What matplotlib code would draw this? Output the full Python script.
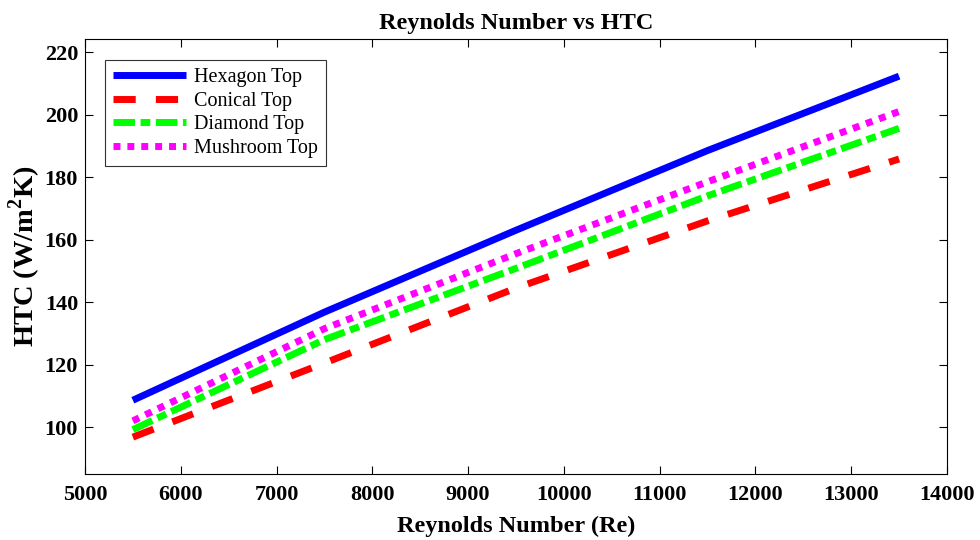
import matplotlib
matplotlib.use("Agg")
import matplotlib.pyplot as plt

plt.rcParams['font.family'] = ['Liberation Serif', 'DejaVu Serif']
plt.rcParams['mathtext.fontset'] = 'custom'
plt.rcParams['mathtext.rm'] = 'Liberation Serif:bold'
plt.rcParams['mathtext.bf'] = 'Liberation Serif:bold'

# Reynolds number samples and heat transfer coefficients for each fin top shape
reynolds = [5500, 7500, 9500, 11500, 13500]
hexagon_top = [108.6, 136.8, 163.0, 188.5, 212.3]
conical_top = [96.8, 120.5, 144.5, 166.0, 185.8]
diamond_top = [99.2, 128.0, 150.8, 174.0, 195.6]
mushroom_top = [102.0, 131.5, 155.5, 178.5, 201.0]

series_labels = ['Hexagon Top', 'Conical Top', 'Diamond Top', 'Mushroom Top']
x_ticks = [5000, 6000, 7000, 8000, 9000, 10000, 11000, 12000, 13000, 14000]
y_ticks = [100, 120, 140, 160, 180, 200, 220]

fig = plt.figure(figsize=(9.8, 5.4), dpi=100)
ax = fig.add_axes([0.0867, 0.1222, 0.8796, 0.8056])

lw = 5
ax.plot(reynolds, hexagon_top, color='#0000ff', lw=lw, solid_capstyle='butt',
        label=series_labels[0])
ax.plot(reynolds, conical_top, color='#ff0000', lw=lw, dashes=(3.2, 2.9),
        dash_capstyle='butt', label=series_labels[1])
ax.plot(reynolds, diamond_top, color='#00ff00', lw=lw, dashes=(3.1, 0.8, 1.4, 0.8),
        dash_capstyle='butt', label=series_labels[2])
ax.plot(reynolds, mushroom_top, color='#ff00ff', lw=lw, dashes=(1.0, 1.0),
        dash_capstyle='butt', label=series_labels[3])

ax.set_xlim(5000, 14000)
ax.set_ylim(85, 224.2)
ax.set_xticks(x_ticks)
ax.set_yticks(y_ticks)
ax.tick_params(direction='in', length=6, width=0.8, top=True, right=True,
               labelsize=16)
ax.tick_params(axis='x', pad=8)
ax.tick_params(axis='y', pad=5)
for lbl in ax.get_xticklabels() + ax.get_yticklabels():
    lbl.set_fontweight('bold')
for sp in ax.spines.values():
    sp.set_linewidth(0.8)

ax.set_xlabel('Reynolds Number (Re)', fontsize=17.5, fontweight='bold', labelpad=8)
ax.set_ylabel(r'HTC (W/m$^{2}$K)', fontsize=20.5, fontweight='bold', labelpad=1)
ax.set_title('Reynolds Number vs HTC', fontsize=17.5, fontweight='bold', pad=7)

leg = ax.legend(loc='upper left', bbox_to_anchor=(0.0232, 0.952), fontsize=14.5,
                handlelength=3.6, handletextpad=0.4, borderpad=0.4,
                labelspacing=0.22, borderaxespad=0, fancybox=False, framealpha=1)
leg.get_frame().set_edgecolor('#333333')
leg.get_frame().set_linewidth(0.8)

fig.savefig('out.png', dpi=100)
